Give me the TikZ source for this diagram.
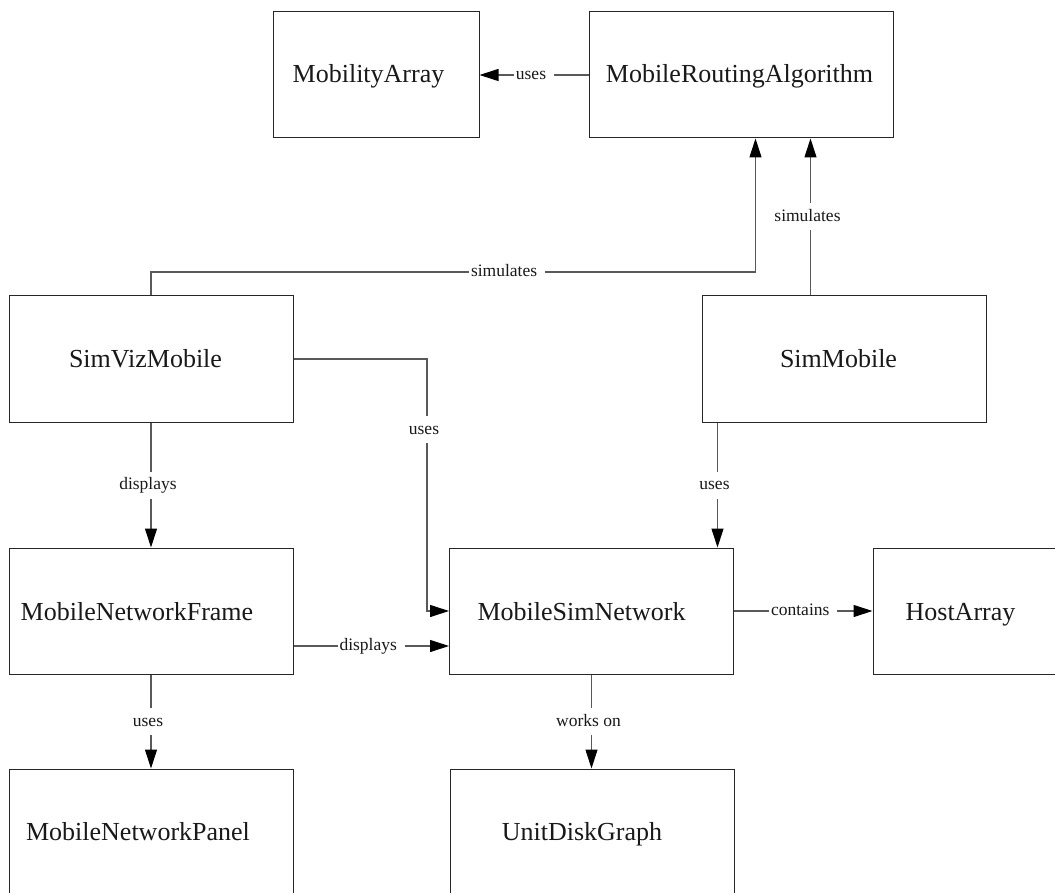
\documentclass[tikz,border=0pt]{standalone}
\usepackage{fontspec}
\setmainfont{Liberation Serif}
\usetikzlibrary{arrows.meta}
\tikzset{
  box/.style={draw=black!85, line width=1pt, rectangle, inner sep=0pt,
              minimum width=284pt, minimum height=126pt},
  btext/.style={inner sep=0pt, anchor=base, font=\fontsize{26}{30}\selectfont, text=black!90},
  conn/.style={draw=black!65, line width=1.1pt},
  arr/.style={conn, -{Triangle[length=19pt,width=12pt,black]}},
  lbl/.style={fill=white, inner xsep=2pt, inner ysep=5pt, text height=13pt, text depth=4pt,
              font=\fontsize{17.5}{20}\selectfont, text=black!90}
}
\newcommand{\lb}[1]{#1\kern6pt}
\begin{document}
\begin{tikzpicture}[x=1pt,y=-1pt]
\useasboundingbox[fill=white] (0,0) rectangle (1055,893);

% boxes
\node[box, minimum width=206pt] (ma)  at (376,75) {};
\node[box, minimum width=304pt] (mra) at (741,75) {};
\node[box] (svm) at (151,359) {};
\node[box] (sm)  at (844,359) {};
\node[box] (mnf) at (151,611) {};
\node[box] (msn) at (591.5,611) {};
\node[box] (ha)  at (1015,611) {};
\node[box] (mnp) at (151,832) {};
\node[box] (udg) at (592,832) {};

% box texts
\node[btext] (ma-t)  at (368.5,83) {MobilityArray};
\node[btext] (mra-t) at (739.5,83) {MobileRoutingAlgorithm};
\node[btext] (svm-t) at (145.5,367) {SimVizMobile};
\node[btext] (sm-t)  at (838.5,367) {SimMobile};
\node[btext] (mnf-t) at (137,620) {MobileNetworkFrame};
\node[btext] (msn-t) at (581.5,620) {MobileSimNetwork};
\node[btext] (ha-t)  at (960.5,620) {HostArray};
\node[btext] (mnp-t) at (138,840) {MobileNetworkPanel};
\node[btext] (udg-t) at (582,840) {UnitDiskGraph};

% helper coordinates
\coordinate (mraA) at ([xshift=167pt]mra.south west);
\coordinate (mraB) at ([xshift=222pt]mra.south west);
\coordinate (smB)  at ([xshift=109pt]sm.north west);
\coordinate (smU)  at ([xshift=16pt]sm.south west);
\coordinate (mnfD) at ([yshift=-35pt]mnf.east);
\coordinate (msnD) at ([yshift=-35pt]msn.west);
\coordinate (yS) at (0,272);
\coordinate (xU) at (427,0);

% connectors
\draw[arr] (mra.west) -- node[lbl]{\lb{uses}} (ma.east);
\draw[arr] (svm.north) -- (svm.north |- yS) -- node[lbl,pos=0.589]{\lb{simulates}} (mraA |- yS) -- (mraA);
\draw[arr] (smB) -- node[lbl]{\lb{simulates}} (mraB);
\draw[arr] (svm.east) -- (xU |- svm.east) -- node[lbl,pos=0.28]{\lb{uses}} (xU |- msn.west) -- (msn.west);
\draw[arr] (svm.south) -- node[lbl]{\lb{displays}} (mnf.north);
\draw[arr] (smU) -- node[lbl]{\lb{uses}} (smU |- msn.north);
\draw[arr] (mnfD) -- node[lbl]{\lb{displays}} (msnD);
\draw[arr] (msn.east) -- node[lbl]{\lb{contains}} (ha.west);
\draw[arr] (mnf.south) -- node[lbl]{\lb{uses}} (mnp.north);
\draw[arr] (msn.south) -- node[lbl]{\lb{works on}} (msn.south |- udg.north);
\end{tikzpicture}
\end{document}
